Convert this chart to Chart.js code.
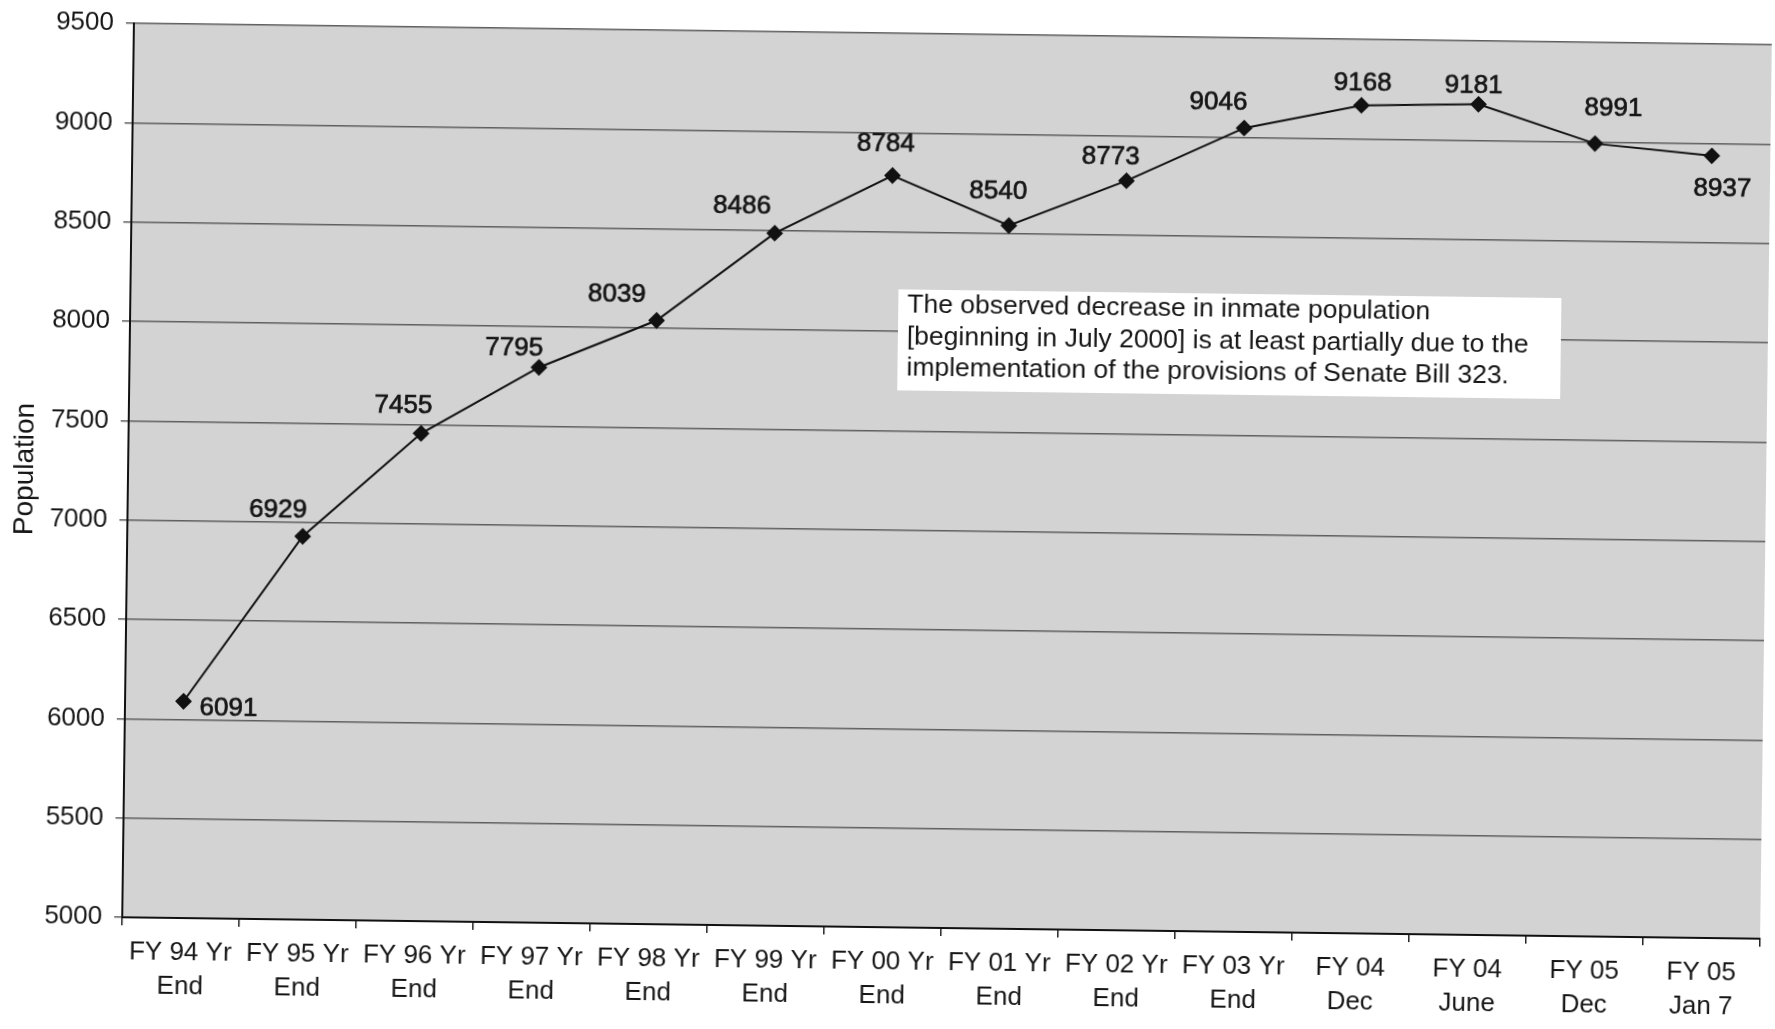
<!DOCTYPE html>
<html>
<head>
<meta charset="utf-8">
<title>Inmate Population</title>
<script src="https://cdn.jsdelivr.net/npm/chart.js@4/dist/chart.umd.min.js"></script>
<style>
  html, body { margin: 0; padding: 0; background: #ffffff; overflow: hidden; }
  #wrap { width: 1775px; height: 1029px; }
  /* the printed page sits very slightly turned */
  #chart { display: block; transform: rotate(0.75deg); transform-origin: 945px 481px; }
</style>
</head>
<body>
<div id="wrap"><canvas id="chart" width="1775" height="1029"></canvas></div>
<script>
// Fiscal-year reporting points
const categories = [
  ["FY 94 Yr", "End"], ["FY 95 Yr", "End"], ["FY 96 Yr", "End"], ["FY 97 Yr", "End"],
  ["FY 98 Yr", "End"], ["FY 99 Yr", "End"], ["FY 00 Yr", "End"], ["FY 01 Yr", "End"],
  ["FY 02 Yr", "End"], ["FY 03 Yr", "End"], ["FY 04", "Dec"], ["FY 04", "June"],
  ["FY 05", "Dec"], ["FY 05", "Jan 7"]
];

// Inmate population at each point
const population = [6091, 6929, 7455, 7795, 8039, 8486, 8784, 8540, 8773, 9046, 9168, 9181, 8991, 8937];

// Value axis
const yMin = 5000;
const yMax = 9500;
const yStep = 500;

const axisTitle = "Population";
const noteLines = [
  "The observed decrease in inmate population",
  "[beginning in July 2000] is at least partially due to the",
  "implementation of the provisions of Senate Bill 323."
];

// where each value label sits relative to its marker (px)
const labelShift = [
  [45, 7], [-25, -26], [-18, -27], [-25, -19], [-40, -25], [-33, -27], [-7, -31],
  [-11, -34], [-16, -24], [-26, -25], [1, -22], [-5, -19], [18, -35], [11, 33]
];

const FONT = "'Liberation Sans', Arial, Helvetica, sans-serif";
const INK = "#161616";

const plotBackground = {
  id: "plotBackground",
  beforeDraw(chart) {
    const { ctx, chartArea: a } = chart;
    ctx.save();
    ctx.fillStyle = "#d3d3d3";
    ctx.fillRect(a.left, a.top, a.right - a.left, a.bottom - a.top);
    ctx.restore();
  }
};

const noteBox = {
  id: "noteBox",
  afterDatasetsDraw(chart) {
    const { ctx } = chart;
    ctx.save();
    ctx.fillStyle = "#ffffff";
    ctx.fillRect(896, 290, 663, 101);
    ctx.fillStyle = INK;
    ctx.font = "26.5px " + FONT;
    ctx.textAlign = "left";
    ctx.textBaseline = "middle";
    noteLines.forEach((t, i) => ctx.fillText(t, 905, 306 + i * 31.5));
    ctx.restore();
  }
};

const valueLabels = {
  id: "valueLabels",
  afterDatasetsDraw(chart) {
    const { ctx } = chart;
    const meta = chart.getDatasetMeta(0);
    ctx.save();
    ctx.fillStyle = INK;
    ctx.strokeStyle = INK;
    ctx.lineWidth = 0.7;
    ctx.font = "26px " + FONT;
    ctx.textAlign = "center";
    ctx.textBaseline = "middle";
    meta.data.forEach((pt, i) => {
      const v = chart.data.datasets[0].data[i];
      const [dx, dy] = labelShift[i];
      ctx.fillText(String(v), pt.x + dx, pt.y + dy);
      ctx.strokeText(String(v), pt.x + dx, pt.y + dy);
    });
    ctx.restore();
  }
};

new Chart(document.getElementById("chart"), {
  type: "line",
  data: {
    labels: categories,
    datasets: [{
      data: population,
      borderColor: "#111111",
      borderWidth: 2,
      pointStyle: "rectRot",
      pointRadius: 7,
      pointHoverRadius: 7,
      pointBackgroundColor: "#111111",
      pointBorderColor: "#111111",
      tension: 0,
      fill: false
    }]
  },
  options: {
    responsive: false,
    animation: false,
    events: [],
    layout: { padding: { top: 34, right: 8, left: 0, bottom: 0 } },
    plugins: {
      legend: { display: false },
      tooltip: { enabled: false }
    },
    scales: {
      x: {
        type: "category",
        offset: true,
        afterFit(scale) { scale.height = 101; },
        border: { display: true, color: "#111111", width: 2 },
        grid: {
          offset: true,
          drawOnChartArea: false,
          drawTicks: true,
          tickLength: 8,
          color: "#222222",
          lineWidth: 1.5
        },
        ticks: {
          autoSkip: false,
          maxRotation: 0,
          minRotation: 0,
          padding: 10,
          color: INK,
          font: { family: FONT, size: 26, lineHeight: 1.3 }
        }
      },
      y: {
        min: yMin,
        max: yMax,
        afterFit(scale) { scale.width = 128; },
        border: { display: true, color: "#111111", width: 2 },
        grid: {
          drawOnChartArea: true,
          drawTicks: true,
          tickLength: 8,
          color: "#5e5e5e",
          lineWidth: 1.5
        },
        ticks: {
          stepSize: yStep,
          padding: 12,
          color: INK,
          font: { family: FONT, size: 26 },
          callback: (v) => String(v)
        },
        title: {
          display: true,
          text: axisTitle,
          color: INK,
          font: { family: FONT, size: 28 },
          padding: { top: 8, bottom: 4 }
        }
      }
    }
  },
  plugins: [plotBackground, noteBox, valueLabels]
});
</script>
</body>
</html>
